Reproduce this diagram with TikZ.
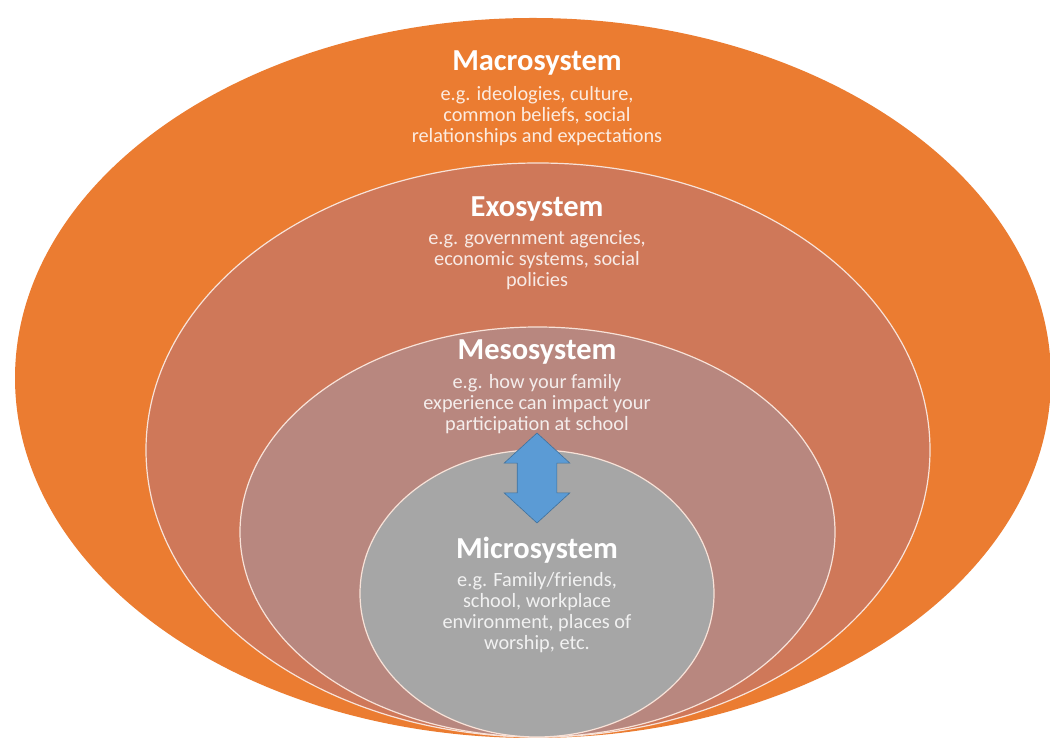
\documentclass[tikz,border=0pt]{standalone}
\usepackage{fontspec}
\setmainfont{Carlito}
\usetikzlibrary{shapes.geometric,shapes.arrows}
\definecolor{macroorange}{HTML}{EB7C31}
\definecolor{exoorange}{HTML}{CF7859}
\definecolor{mesorose}{HTML}{B8877F}
\definecolor{microgray}{HTML}{A6A6A6}
\definecolor{arrowblue}{HTML}{5B9BD5}
\definecolor{arrowedge}{HTML}{41719C}
\definecolor{ringline}{HTML}{F8E2D8}
\tikzset{
    ring/.style={ellipse, inner sep=0pt, outer sep=0pt, draw=ringline, line width=1.2pt},
    systitle/.style={text=white, font=\bfseries\fontsize{30.5}{33}\selectfont},
    sysnote/.style={text=white, text opacity=0.85, align=center, font=\fontsize{20.3}{21}\selectfont}
}
\begin{document}
\begin{tikzpicture}[x=1pt, y=1pt]
            \useasboundingbox (0, 0) rectangle (1050, 739);

            \node[ring, draw=none, fill=macroorange, minimum width=1036pt, minimum height=720pt] (macro) at (533, 361) {};
            \node[ring, fill=exoorange, minimum width=784pt, minimum height=574pt] (exo) at (538, 289) {};
            \node[ring, fill=mesorose, minimum width=595pt, minimum height=410pt] (meso) at (537.5, 207) {};
            \node[ring, fill=microgray, minimum width=354pt, minimum height=287pt] (micro) at (537, 145.5) {};

            \node[double arrow, rotate=90, fill=arrowblue, draw=arrowedge, line width=0.6pt,
                  minimum height=90pt, inner xsep=0pt, inner ysep=19.5pt, double arrow head extend=13pt,
                  double arrow tip angle=95] (link) at (537, 261) {};

            \node[systitle] (macroT) at (537, 676) { Macrosystem };
            \node[sysnote] (macroN) at (537, 623) { e.g. ideologies, culture,\\ common  beliefs, social\\ relationships and expectations };

            \node[systitle] (exoT) at (537, 530) { Exosystem };
            \node[sysnote] (exoN) at (537, 479) { e.g. government agencies,\\ economic systems, social\\ policies };

            \node[systitle] (mesoT) at (537, 387) { Mesosystem };
            \node[sysnote] (mesoN) at (537, 335) { e.g. how your family\\ experience can impact your\\ participation  at school };

            \node[systitle] (microT) at (537, 189) { Microsystem };
            \node[sysnote] (microN) at (537, 126.5) { e.g. Family/friends,\\ school, workplace\\ environment,  places of\\ worship, etc. };
        \end{tikzpicture}
\end{document}
